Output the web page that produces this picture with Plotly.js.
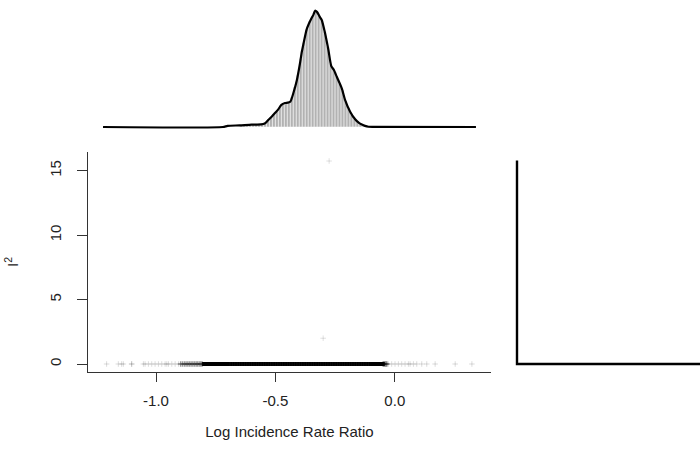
<!DOCTYPE html>
<html><head><meta charset="utf-8">
<script src="https://cdn.plot.ly/plotly-3.0.1.min.js"></script>
<style>html,body{margin:0;padding:0;background:#fff}#chart{width:700px;height:450px}</style>
</head><body><div id="chart"></div>
<script>
// ---- data ----
const xTickVals = [-1.0, -0.5, 0.0];
const xTickText = ["-1.0", "-0.5", "0.0"];
const yTickVals = [0, 5, 10, 15];
const yTickText = ["0", "5", "10", "15"];

// scatter: log IRR vs I^2
const tailLogIrr = [-1.207,-1.158,-1.144,-1.137,-1.102,-1.102,-1.053,-1.046,-1.032,-1.018,-1.004,-0.990,-0.976,-0.962,-0.955,-0.948,-0.934,-0.920,-0.906,
  -0.027,-0.013,0.001,0.015,0.029,0.043,0.057,0.064,0.078,0.092,0.113,0.134,0.169,0.253,0.323];
const midLogIrr = [-0.897,-0.889,-0.881,-0.874,-0.867,-0.860,-0.853,-0.846,-0.839,-0.832,-0.826,-0.819,-0.813,-0.807,
  -0.049,-0.045,-0.041,-0.037,-0.033];
const coreLogIrr = [-0.80,-0.795,-0.79,-0.785,-0.78,-0.775,-0.77,-0.765,-0.76,-0.755,-0.75,-0.745,-0.74,-0.735,-0.73,-0.725,-0.72,-0.715,-0.71,-0.705,
  -0.70,-0.69,-0.68,-0.67,-0.66,-0.65,-0.64,-0.63,-0.62,-0.61,
  -0.60,-0.59,-0.58,-0.57,-0.56,-0.55,-0.54,-0.53,-0.52,-0.51,-0.50,-0.49,-0.48,-0.47,-0.46,-0.45,-0.44,-0.43,-0.42,-0.41,
  -0.40,-0.39,-0.38,-0.37,-0.36,-0.35,-0.34,-0.33,-0.32,-0.31,-0.30,-0.29,-0.28,-0.27,-0.26,-0.25,-0.24,-0.23,-0.22,-0.21,
  -0.20,-0.19,-0.18,-0.17,-0.16,-0.15,-0.14,-0.13,-0.12,-0.11,-0.10,-0.095,-0.09,-0.085,-0.08,-0.075,-0.07,-0.065,-0.06,-0.055,-0.05];
const highLogIrr = [-0.300, -0.275];
const highI2 = [2.0, 15.75];

// top marginal: histogram (density scale) and density curve of log IRR
const histStart = -0.64375;
const histBinWidth = 0.0125;
const histDensity = [0.08,0.09,0.09,0.10,0.10,0.10,0.11,0.12,0.16,0.29,0.41,0.55,0.69,0.86,0.98,1.04,1.07,1.27,1.72,2.22,
  2.95,3.62,4.20,4.55,4.78,4.97,4.82,4.60,4.10,3.45,2.70,2.45,2.18,1.88,1.58,1.12,0.82,0.55,0.37,0.24,0.14,0.08,0.04,0.015];
const densX = [-1.222,-0.72,-0.70,-0.65,-0.60,-0.56,-0.545,-0.53,-0.515,-0.50,-0.488,-0.475,-0.46,-0.448,-0.437,-0.425,-0.41,-0.397,-0.39,-0.383,-0.369,
  -0.35,-0.341,-0.334,-0.326,-0.315,-0.306,-0.292,-0.278,-0.266,-0.255,-0.243,-0.222,-0.208,-0.187,-0.166,-0.15,-0.138,-0.125,-0.11,-0.09,0.340];
const densY = [0,0,0.05,0.07,0.10,0.11,0.15,0.30,0.45,0.62,0.76,0.95,1.03,1.05,1.10,1.45,2.02,2.74,3.20,3.55,4.20,
  4.65,4.82,5.00,4.95,4.75,4.60,4.03,3.31,2.62,2.45,2.16,1.66,1.16,0.66,0.33,0.18,0.11,0.05,0.01,0.003,0];

// right marginal: density of I^2 (spike at zero)
const i2DensI2 = [15.8, 0, 0];
const i2DensVal = [0, 0, 400];

const FONT = "Liberation Sans, Arial, sans-serif";
const AX = '#333333';
const zeros = a => a.map(() => 0);

const traces = [
  {type:'scatter', mode:'markers', x: tailLogIrr, y: zeros(tailLogIrr), xaxis:'x', yaxis:'y',
   marker:{symbol:'cross-thin', size:4, line:{width:1, color:'rgba(0,0,0,0.14)'}, color:'rgba(0,0,0,0.14)'}, hoverinfo:'x+y'},
  {type:'scatter', mode:'markers', x: midLogIrr, y: zeros(midLogIrr), xaxis:'x', yaxis:'y',
   marker:{symbol:'cross-thin', size:4, line:{width:1.4, color:'rgba(0,0,0,0.4)'}, color:'rgba(0,0,0,0.4)'}, hoverinfo:'x+y'},
  {type:'scatter', mode:'markers', x: coreLogIrr, y: zeros(coreLogIrr), xaxis:'x', yaxis:'y',
   marker:{symbol:'square', size:4, line:{width:0}, color:'rgba(0,0,0,0.95)'}, hoverinfo:'x+y'},
  {type:'scatter', mode:'markers', x: highLogIrr, y: highI2, xaxis:'x', yaxis:'y',
   marker:{symbol:'cross-thin', size:4, line:{width:1, color:'rgba(0,0,0,0.12)'}, color:'rgba(0,0,0,0.12)'}, hoverinfo:'x+y'},
  {type:'bar', x0: histStart, dx: histBinWidth, y: histDensity, xaxis:'x2', yaxis:'y2',
   width: histBinWidth, marker:{color:'#B2B2B2', line:{color:'#ffffff', width:0.5}}, hoverinfo:'y'},
  {type:'scatter', mode:'lines', x: densX, y: densY, xaxis:'x2', yaxis:'y2',
   line:{color:'#000', width:2.2, shape:'spline', smoothing:0.6}, hoverinfo:'skip'},
  {type:'scatter', mode:'lines', x: i2DensVal, y: i2DensI2, xaxis:'x3', yaxis:'y3',
   line:{color:'#000', width:2.4}, hoverinfo:'skip'}
];

const W = 700, H = 450;
const mainXRange = [-1.285, 0.403];
const mainYRange = [-0.62, 16.45];
const layout = {
  width: W, height: H,
  margin:{l:0, r:0, t:0, b:0},
  paper_bgcolor:'#ffffff', plot_bgcolor:'#ffffff',
  showlegend:false, bargap:0,
  font:{family: FONT, size:15, color:'#000'},
  xaxis:{domain:[88/W, 491/W], range: mainXRange, anchor:'y',
    showline:true, linecolor:AX, linewidth:1, ticks:'outside', ticklen:9, tickcolor:AX, tickwidth:1,
    tickvals: xTickVals, ticktext: xTickText, showgrid:false, zeroline:false,
    tickfont:{family:FONT, size:15, color:'#222'}, ticklabelstandoff:6,
    title:{text:'Log Incidence Rate Ratio', font:{family:FONT, size:15, color:'#222'}, standoff:18}},
  yaxis:{domain:[(H-372)/H, (H-152)/H], range: mainYRange, anchor:'x',
    showline:true, linecolor:AX, linewidth:1, ticks:'outside', ticklen:10, tickcolor:AX, tickwidth:1,
    tickvals: yTickVals, ticktext: yTickText, tickangle:-90, showgrid:false, zeroline:false,
    tickfont:{family:FONT, size:15, color:'#222'}, ticklabelstandoff:10,
    title:{text:'I<sup>2</sup>', font:{family:FONT, size:15, color:'#222'}, standoff:24}},
  xaxis2:{domain:[88/W, 491/W], range: mainXRange, anchor:'y2', visible:false},
  yaxis2:{domain:[(H-135)/H, 1], range:[-0.344, 5.46], anchor:'x2', visible:false},
  xaxis3:{domain:[505/W, 1], range:[-12, 183], anchor:'y3', visible:false},
  yaxis3:{domain:[(H-372)/H, (H-152)/H], range: mainYRange, anchor:'x3', visible:false}
};

Plotly.newPlot('chart', traces, layout, {staticPlot:true, displayModeBar:false});
</script>
</body></html>
